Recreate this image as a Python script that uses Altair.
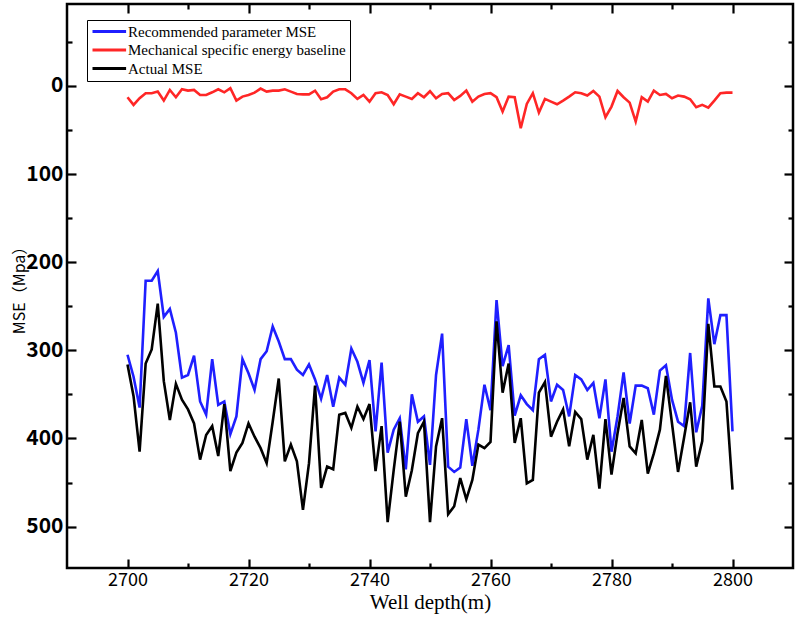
import altair as alt
import pandas as pd

# Well depth (m), one sample per metre
depth = list(range(2700, 2801))

# MSE (Mpa) along the interval
recommended_mse = [
    305, 330, 365, 221, 221, 210, 262, 253, 280, 331, 328, 306, 358, 373, 310, 362, 358, 395, 375, 310, 326,
    345, 310, 301, 273, 290, 310, 310, 322, 328, 316, 333, 355, 328, 364, 331, 339, 298, 313, 337, 311,
    392, 314, 416, 390, 377, 435, 350, 381, 375, 430, 328, 281, 432, 438, 433, 378, 431, 390, 339, 368,
    243, 318, 294, 374, 351, 361, 368, 310, 305, 358, 339, 345, 375, 328, 333, 345, 337, 377, 333, 415, 375, 325,
    383, 340, 340, 343, 373, 323, 317, 356, 381, 386, 303, 393, 363, 241, 293, 260, 260, 392,
]
baseline_mse = [
    12.8, 21.5, 13.9, 8.2, 8.2, 6.4, 16.6, 4.5, 12.8, 3.8, 5.3, 4.5, 10.2, 10.2, 7.2, 3.8, 7.2, 2.6, 16.6, 12.1,
    10.2, 7.6, 3.0, 6.4, 5.3, 5.3, 3.8, 6.4, 9.1, 9.5, 9.5, 5.3, 15.1, 12.8, 6.4, 3.8, 3.8, 8.2, 14.7, 10.2,
    17.8, 8.2, 7.2, 10.2, 20.8, 9.5, 12.1, 14.7, 8.2, 12.8,
    6.0, 14.0, 9.1, 8.2, 15.9, 11.3, 5.3, 17.8, 12.1, 9.1, 8.2, 12.8, 29.1, 12.1, 12.8, 48.0, 20.4, 8.2, 30.2, 14.7,
    17.8, 20.8, 16.6, 12.1, 7.2, 8.2, 10.9, 5.7, 12.1, 35.5, 23.4, 5.7, 12.8, 18.9, 40.4, 12.8, 17.8, 5.3, 10.2, 9.1,
    14.0, 10.9, 12.1, 15.1, 24.2, 21.5, 24.6, 16.6, 8.2, 7.6, 7.6,
]
actual_mse = [
    316, 352, 415, 315, 299, 247, 335, 379, 338, 356, 367, 383, 424, 396, 386, 420, 361, 437, 416, 405, 383,
    398, 411, 428, 381, 332, 426, 407, 426, 481, 428, 340, 456, 432, 435, 373, 371, 388, 364, 378, 361,
    437, 386, 495, 436, 381, 466, 436, 394, 381, 495, 409, 377, 486, 477, 445, 469, 447, 407, 411, 404,
    267, 348, 315, 405, 377, 451, 447, 348, 336, 398, 381, 367, 409, 370, 378, 424, 396, 457, 378, 441, 394, 354,
    409, 417, 379, 440, 417, 390, 329, 383, 438, 399, 359, 432, 403, 270, 341, 341, 358, 458,
]

series_names = [
    "Recommended parameter MSE",
    "Mechanical specific energy baseline",
    "Actual MSE",
]
series_colors = ["#1f1fff", "#ff2626", "#000000"]

# Axis tick positions (ticks point inward on all four sides)
x_major = [2700, 2720, 2740, 2760, 2780, 2800]
x_minor = [2710, 2730, 2750, 2770, 2790]
y_major = [0, 100, 200, 300, 400, 500]
y_minor = [-50, 50, 150, 250, 350, 450]

W, H = 726, 564
MAJOR, MINOR = 9, 5

wide = pd.DataFrame({
    "depth": depth,
    series_names[0]: recommended_mse,
    series_names[1]: baseline_mse,
    series_names[2]: actual_mse,
})
long = wide.melt("depth", var_name="series", value_name="mse")

x_scale = alt.Scale(domain=[2690, 2810], nice=False, zero=False)
y_scale = alt.Scale(domain=[-93, 547], reverse=True, nice=False, zero=False)

sans = "Noto Sans CJK SC, Liberation Sans, sans-serif"
tick_style = dict(ticks=True, tickColor="black", tickWidth=2.2, domain=False, grid=False)

# Labelled axes: pulled inside the frame by the tick length so the ticks point inward
x_axis = alt.Axis(
    orient="bottom", values=x_major, format="d", offset=-MAJOR, tickSize=MAJOR, **tick_style,
    labelFont=sans, labelFontSize=18, labelColor="black", labelPadding=3,
    title="Well depth(m)", titleFont="Liberation Serif", titleFontSize=21,
    titleFontWeight="normal", titleColor="black", titleY=34 + MAJOR, titleBaseline="middle",
)
y_axis = alt.Axis(
    orient="left", values=y_major, format="d", offset=-MAJOR, tickSize=MAJOR, **tick_style,
    labelFont=sans, labelFontSize=21, labelFontWeight="bold", labelColor="black",
    labelPadding=4,
    title="MSE（Mpa）", titleFont=sans, titleFontSize=16, titleFontWeight="normal",
    titleColor="black", titleAngle=270, titleX=-48 - MAJOR, titleY=282,
    titleAlign="center", titleBaseline="middle",
)

lines = alt.Chart(long).mark_line(strokeWidth=2.6, strokeJoin="miter").encode(
    x=alt.X("depth:Q", scale=x_scale, axis=x_axis),
    y=alt.Y("mse:Q", scale=y_scale, axis=y_axis),
    color=alt.Color(
        "series:N",
        scale=alt.Scale(domain=series_names, range=series_colors),
        legend=alt.Legend(
            title=None, orient="none", legendX=20, legendY=16,
            strokeColor="black", fillColor="white", padding=4, cornerRadius=0,
            symbolType="M-1,0H4.6", symbolSize=144, symbolStrokeWidth=3,
            labelFont="Liberation Serif", labelFontSize=15, labelColor="black",
            labelOffset=22, labelLimit=0, rowPadding=2.5,
        ),
    ),
)


def tick_axis(orient, values, length):
    return alt.Axis(
        orient=orient, values=values, offset=-length, tickSize=length,
        labels=False, title=None, **tick_style,
    )


def x_tick_layer(orient, values, length):
    d = alt.Data(values=[{"depth": v} for v in values])
    return alt.Chart(d).mark_rule(strokeOpacity=0).encode(
        x=alt.X("depth:Q", scale=x_scale, axis=tick_axis(orient, values, length)),
    )


def y_tick_layer(orient, values, length):
    d = alt.Data(values=[{"mse": v} for v in values])
    return alt.Chart(d).mark_rule(strokeOpacity=0).encode(
        y=alt.Y("mse:Q", scale=y_scale, axis=tick_axis(orient, values, length)),
    )


layers = [
    lines,
    x_tick_layer("bottom", x_minor, MINOR),
    x_tick_layer("top", x_major, MAJOR),
    x_tick_layer("top", x_minor, MINOR),
    y_tick_layer("left", y_minor, MINOR),
    y_tick_layer("right", y_major, MAJOR),
    y_tick_layer("right", y_minor, MINOR),
]

chart = alt.layer(*layers).resolve_axis(
    x="independent", y="independent",
).properties(
    width=W, height=H,
    background="white",
    autosize=alt.AutoSizeParams(type="none"),
    padding={"left": 67, "top": 4, "right": 7, "bottom": 69},
).configure_view(
    stroke="black", strokeWidth=2.5,
)

chart.save("out.html", embed_options={"renderer": "svg", "actions": False})
